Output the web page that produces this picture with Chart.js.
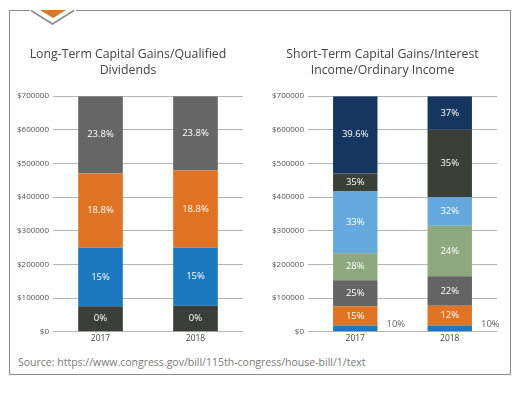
<!DOCTYPE html>
<html>
<head>
<meta charset="utf-8">
<script src="https://cdn.jsdelivr.net/npm/chart.js@4.4.0/dist/chart.umd.min.js"></script>
<style>
  body { margin: 0; width: 520px; height: 394px; background: #fff; position: relative; overflow: hidden; font-family: 'Open Sans', sans-serif; }
  .frame { position: absolute; left: 9px; top: 10px; width: 500px; height: 363px; border: 1.5px solid #8c8c8c; }
  .tab { position: absolute; left: 30px; top: 8px; }
  .chartbox { position: absolute; top: 30px; height: 316px; width: 250px; }
  #left { left: 10px; }
  #right { left: 262px; }
  .source { position: absolute; left: 18px; top: 355px; font-size: 10.5px; color: #7a7a7a; }
</style>
</head>
<body>
<div class="frame"></div>
<svg class="tab" width="46" height="20" viewBox="0 0 46 20">
  <rect x="0" y="0" width="46" height="3" fill="#fff"/>
  <polyline points="1,2.5 22.5,16 44,2.5" fill="#fff" stroke="#8c8c8c" stroke-width="1.5"/>
  <polygon points="10,2 36,2 23,10" fill="#e07424"/>
</svg>
<div class="chartbox" id="left"><canvas id="ltcg" width="250" height="316"></canvas></div>
<div class="chartbox" id="right"><canvas id="stcg" width="250" height="316"></canvas></div>
<div class="source">Source: https://www.congress.gov/bill/115th-congress/house-bill/1/text</div>

<script>
// tax brackets, married filing jointly (segment sizes in $)
const years = ['2017', '2018']

const ltRates = ['0%', '15%', '18.8%', '23.8%']
const ltColours = ['#3b3f3a', '#1a79bf', '#e07424', '#666666']
const lt2017 = [75900, 174100, 220700, 229300]
const lt2018 = [77200, 172800, 229000, 221000]

const stRates2017 = ['10%', '15%', '25%', '28%', '33%', '35%', '39.6%']
const stRates2018 = ['10%', '12%', '22%', '24%', '32%', '35%', '37%']
const stColours = ['#1a79bf', '#e07424', '#646464', '#8fa97f', '#64a9dd', '#3a3f37', '#15375f']
const st2017 = [18650, 57250, 77200, 80250, 183350, 54000, 229300]
const st2018 = [19050, 58350, 87600, 150000, 85000, 200000, 100000]

const yTicks = [0, 100000, 200000, 300000, 400000, 500000, 600000, 700000]

// writes the rate inside each segment; the thin bottom one goes to the right
const rateLabels = {
    id: 'rateLabels',
    afterDatasetsDraw(chart) {
        let ctx = chart.ctx
        ctx.save()
        ctx.font = '9.5px "Open Sans"'
        ctx.textBaseline = 'middle'
        chart.data.datasets.forEach(function (ds, i) {
            chart.getDatasetMeta(i).data.forEach(function (bar, j) {
                let text = ds.rates[j]
                let h = bar.base - bar.y
                if (h < 12) {
                    ctx.fillStyle = '#666'
                    ctx.textAlign = 'left'
                    ctx.fillText(text, bar.x + bar.width / 2 + 9, bar.y - 1)
                } else {
                    ctx.fillStyle = '#fff'
                    ctx.textAlign = 'center'
                    ctx.fillText(text, bar.x, (bar.y + bar.base) / 2)
                }
            })
        })
        ctx.restore()
    }
}

function options(title, padL, padR) {
    return {
        responsive: false,
        animation: false,
        layout: { padding: { left: padL, right: padR, top: 0, bottom: 0 } },
        plugins: {
            legend: { display: false },
            tooltip: { enabled: false },
            title: {
                display: true,
                text: title,
                color: '#444',
                font: { family: 'Open Sans', size: 12.3, weight: 'normal', lineHeight: 1.35 },
                padding: { top: 16, bottom: 17 }
            }
        },
        scales: {
            x: {
                stacked: true,
                grid: { display: false, drawTicks: false },
                border: { display: false },
                ticks: { color: '#444', font: { family: 'Open Sans', size: 8.5 }, padding: 2 }
            },
            y: {
                stacked: true,
                min: 0,
                max: 700000,
                afterBuildTicks: function (axis) {
                    axis.ticks = yTicks.map(function (v) { return { value: v } })
                },
                grid: { color: '#b5b5b5', drawTicks: false, lineWidth: 1 },
                border: { display: false },
                ticks: {
                    color: '#555',
                    font: { family: 'Open Sans', size: 8 },
                    padding: 4,
                    callback: function (v) { return '$' + v }
                }
            }
        }
    }
}

function buildSets(a, b, ratesA, ratesB, colours) {
    return a.map(function (v, i) {
        return {
            data: [v, b[i]],
            rates: [ratesA[i], ratesB[i]],
            backgroundColor: colours[i],
            borderWidth: 0,
            barPercentage: 0.47,
            categoryPercentage: 1
        }
    })
}

let longTerm = new Chart(document.getElementById('ltcg'), {
    type: 'bar',
    data: {
        labels: years,
        datasets: buildSets(lt2017, lt2018, ltRates, ltRates, ltColours)
    },
    options: options(['Long-Term Capital Gains/Qualified', 'Dividends'], 3, 17),
    plugins: [rateLabels]
})

let shortTerm = new Chart(document.getElementById('stcg'), {
    type: 'bar',
    data: {
        labels: years,
        datasets: buildSets(st2017, st2018, stRates2017, stRates2018, stColours)
    },
    options: options(['Short-Term Capital Gains/Interest', 'Income/Ordinary Income'], 6, 15),
    plugins: [rateLabels]
})
</script>
</body>
</html>
